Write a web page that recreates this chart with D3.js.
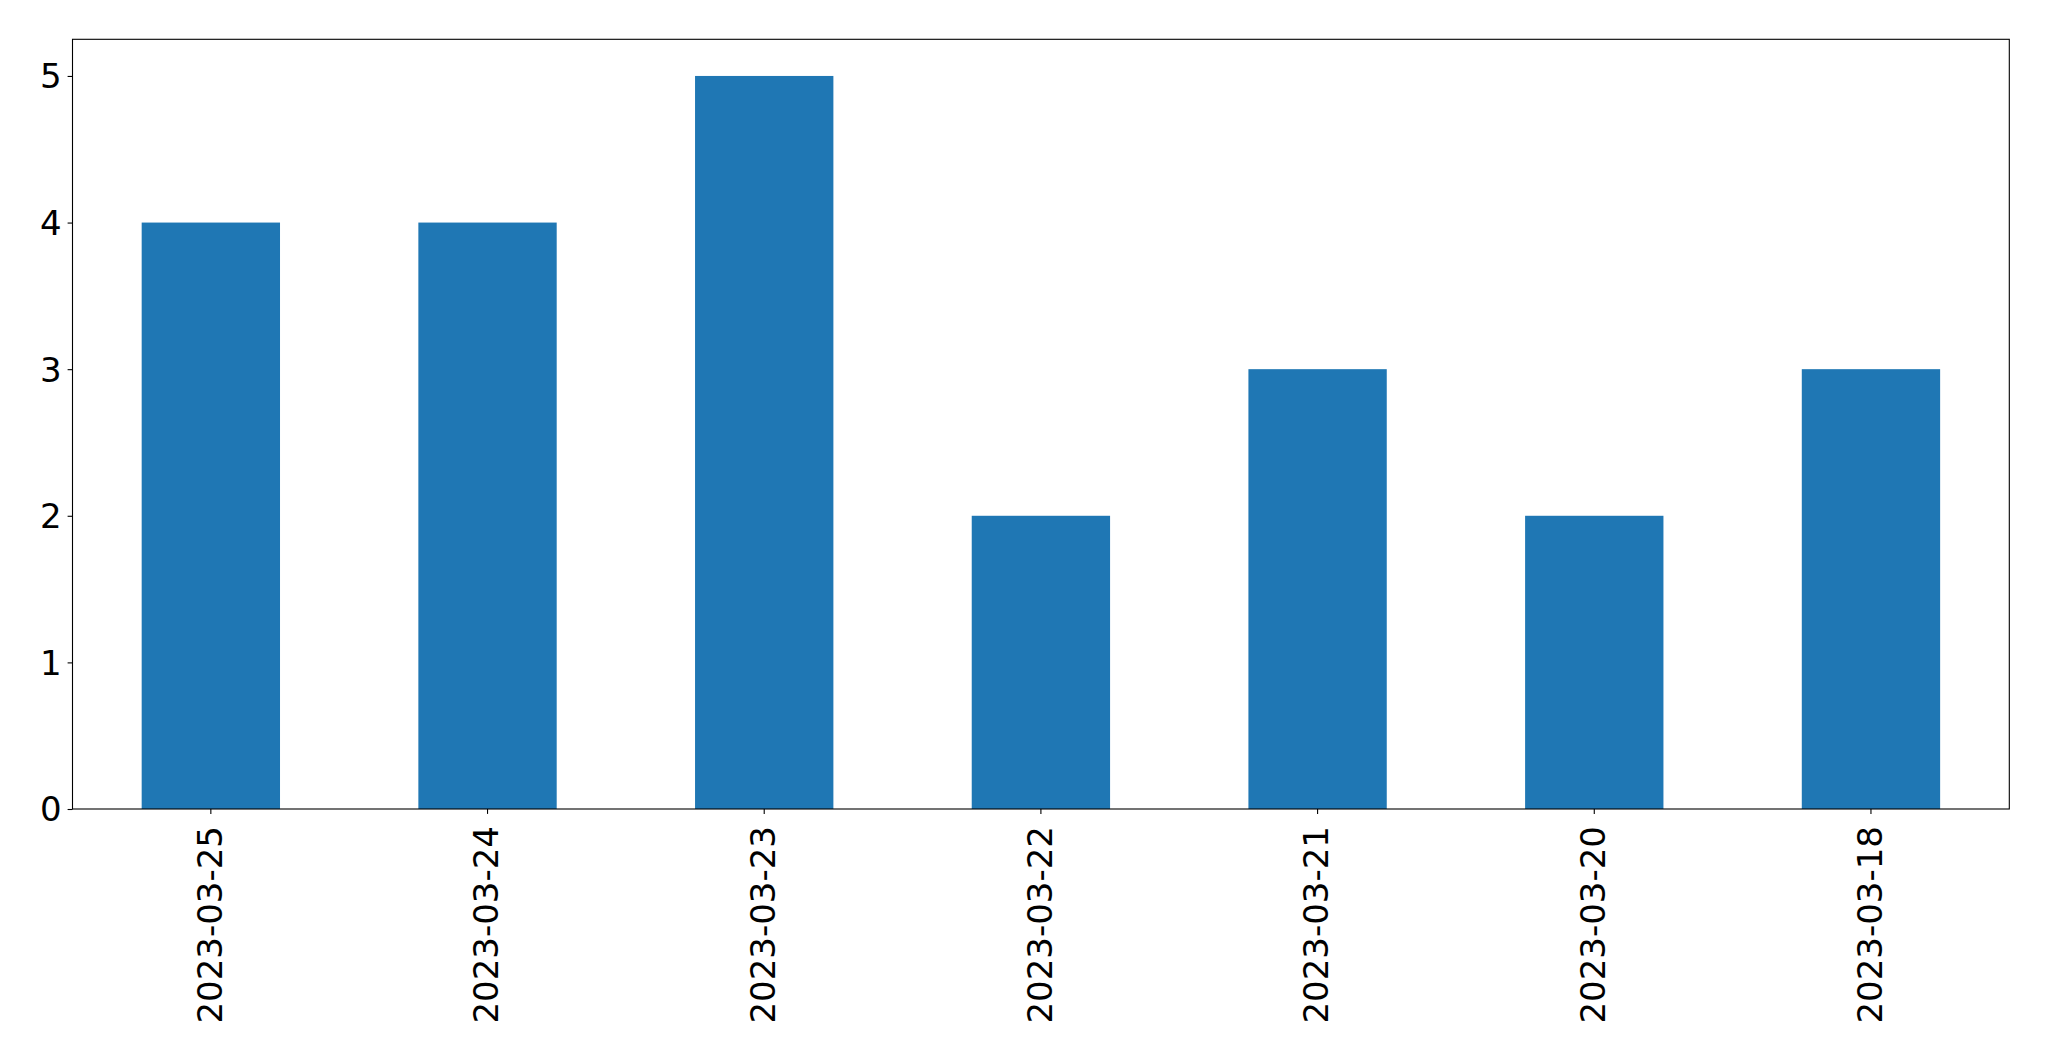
<!DOCTYPE html>
<html><head><meta charset="utf-8">
<script src="https://cdn.jsdelivr.net/npm/d3@7"></script>
<style>html,body{margin:0;padding:0;background:#fff;}svg{display:block;}</style>
</head><body>
<script>
const categories = ["2023-03-25","2023-03-24","2023-03-23","2023-03-22","2023-03-21","2023-03-20","2023-03-18"];
const values = [4,4,5,2,3,2,3];
const yTicks = [0,1,2,3,4,5];

const W = 2049, H = 1061;
const m = {left:72.5, right:2049-2009.3, top:39.3, bottom:1061-809};
const svg = d3.select("body").append("svg").attr("width",W).attr("height",H);

const x = d3.scaleBand().domain(categories).range([m.left, W-m.right]).paddingInner(0.5).paddingOuter(0.25);
const y = d3.scaleLinear().domain([0,5.25]).range([H-m.bottom, m.top]);

svg.append("g").selectAll("rect").data(values).join("rect")
  .attr("x",(d,i)=>x(categories[i]))
  .attr("width",x.bandwidth())
  .attr("y",d=>y(d))
  .attr("height",d=>y(0)-y(d))
  .attr("fill","#1f77b4");

const font = "DejaVu Sans";
const yAxis = svg.append("g").attr("transform",`translate(${m.left},0)`)
  .call(d3.axisLeft(y).tickValues(yTicks).tickFormat(d3.format("d")).tickSize(4.9).tickPadding(6));
yAxis.select(".domain").remove();
yAxis.selectAll("line").attr("stroke","#000").attr("stroke-width",1.1);
yAxis.selectAll("text").attr("font-family",font).attr("font-size","34px").attr("fill","#000").attr("dy","0.35em");

const xAxis = svg.append("g").attr("transform",`translate(0,${H-m.bottom})`)
  .call(d3.axisBottom(x).tickSize(4.9).tickPadding(0));
xAxis.select(".domain").remove();
xAxis.selectAll("line").attr("stroke","#000").attr("stroke-width",1.1);
xAxis.selectAll("text")
  .attr("font-family",font).attr("font-size","34px").attr("fill","#000")
  .attr("text-anchor","end")
  .attr("transform","rotate(-90)")
  .attr("x",-17).attr("y",0).attr("dy","0.32em");

svg.append("rect").attr("x",m.left).attr("y",m.top)
  .attr("width",W-m.right-m.left).attr("height",H-m.bottom-m.top)
  .attr("fill","none").attr("stroke","#000").attr("stroke-width",1.1);
</script>
</body></html>
